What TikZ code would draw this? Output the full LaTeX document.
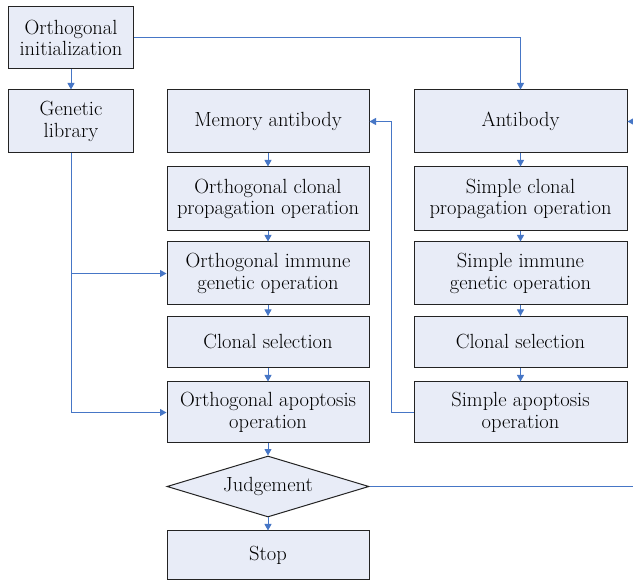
\documentclass[tikz,border=0pt]{standalone}
\usetikzlibrary{arrows.meta,shapes.geometric}
\definecolor{boxfill}{RGB}{232,236,247}
\definecolor{boxline}{RGB}{35,35,35}
\definecolor{conn}{RGB}{70,118,198}
\begin{document}
\begin{tikzpicture}[x=1pt,y=-1pt,
  box/.style={draw=boxline,fill=boxfill,line width=1pt,inner sep=0pt,align=center,
    font=\rmfamily\fontsize{20.5}{21.5}\selectfont},
  judgebox/.style={box,diamond,aspect=3.3},
  connline/.style={draw=conn,line width=1pt,-{Triangle[length=6.5pt,width=7pt]}}
]
\useasboundingbox (0,0) rectangle (633,580);
\clip (0,0) rectangle (633,580);
\fill[white] (0,0) rectangle (633,580);
% column 1
\node[box,minimum width=125,minimum height=62] (init) at (71,38) {Orthogonal\\initialization};
\node[box,minimum width=125,minimum height=63] (lib) at (71,121.5) {Genetic\\library};
% column 2
\node[box,minimum width=202,minimum height=63] (mem) at (268,121.5) {Memory antibody};
\node[box,minimum width=202,minimum height=64] (ocp) at (268,199) {Orthogonal clonal\\propagation operation};
\node[box,minimum width=202,minimum height=63] (oig) at (268,273.5) {Orthogonal immune\\genetic operation};
\node[box,minimum width=202,minimum height=51] (ocs) at (268,342) {Clonal selection};
\node[box,minimum width=202,minimum height=61] (oap) at (268,412.5) {Orthogonal apoptosis\\operation};
\node[judgebox,minimum width=202,minimum height=61] (judge) at (268,486.5) {Judgement};
\node[box,minimum width=202,minimum height=49] (stop) at (268,555.5) {Stop};
% column 3
\node[box,minimum width=213,minimum height=63] (ab) at (520.5,121.5) {Antibody};
\node[box,minimum width=213,minimum height=64] (scp) at (520.5,199) {Simple clonal\\propagation operation};
\node[box,minimum width=213,minimum height=63] (sig) at (520.5,273.5) {Simple immune\\genetic operation};
\node[box,minimum width=213,minimum height=51] (scs) at (520.5,342) {Clonal selection};
\node[box,minimum width=213,minimum height=61] (sap) at (520.5,412.5) {Simple apoptosis\\operation};
% connectors
\draw[connline] (init.south) -- (lib.north);
\draw[connline] (init.east) -| (ab.north);
\draw[connline] (lib.south) |- (oap.west);
\draw[connline] (lib.south |- oig.west) -- (oig.west);
\draw[connline] (mem) -- (ocp);
\draw[connline] (ocp) -- (oig);
\draw[connline] (oig) -- (ocs);
\draw[connline] (ocs) -- (oap);
\draw[connline] (oap) -- (judge);
\draw[connline] (judge) -- (stop);
\draw[connline] (ab) -- (scp);
\draw[connline] (scp) -- (sig);
\draw[connline] (sig) -- (scs);
\draw[connline] (scs) -- (sap);
\coordinate (fb) at (391,412.5);
\draw[connline] (sap.west) -- (fb) |- (mem.east);
\coordinate (rt) at (650,486.5);
\draw[connline] (judge.east) -- (rt) |- (ab.east);
\end{tikzpicture}
\end{document}
